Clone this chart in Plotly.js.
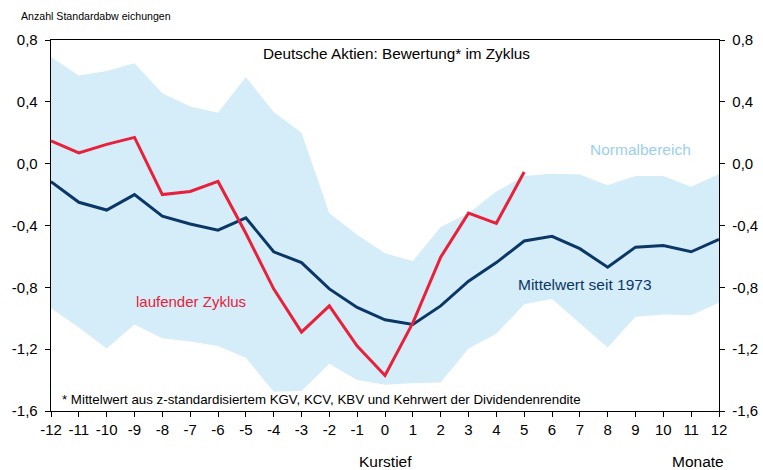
<!DOCTYPE html>
<html>
<head>
<meta charset="utf-8">
<script src="https://cdn.plot.ly/plotly-3.0.1.min.js"></script>
<style>html,body{margin:0;padding:0;background:#fff;}#chart{width:763px;height:470px;}</style>
</head>
<body>
<div id="chart"></div>
<script>
const months = [-12,-11,-10,-9,-8,-7,-6,-5,-4,-3,-2,-1,0,1,2,3,4,5,6,7,8,9,10,11,12];
const bandUpper = [0.69,0.57,0.60,0.65,0.455,0.37,0.33,0.56,0.335,0.20,-0.32,-0.46,-0.58,-0.63,-0.41,-0.32,-0.18,-0.08,-0.065,-0.07,-0.14,-0.08,-0.08,-0.15,-0.067];
const bandLower = [-0.935,-1.06,-1.195,-1.04,-1.13,-1.15,-1.18,-1.255,-1.475,-1.47,-1.295,-1.40,-1.43,-1.42,-1.415,-1.195,-1.10,-0.91,-0.875,-1.03,-1.19,-0.99,-0.975,-0.98,-0.90];
const meanSince1973 = [-0.116,-0.25,-0.30,-0.20,-0.34,-0.39,-0.43,-0.35,-0.57,-0.64,-0.81,-0.93,-1.01,-1.04,-0.92,-0.76,-0.64,-0.50,-0.47,-0.55,-0.67,-0.54,-0.53,-0.57,-0.49];
const currentMonths = [-12,-11,-10,-9,-8,-7,-6,-5,-4,-3,-2,-1,0,1,2,3,4,5];
const currentCycle = [0.147,0.07,0.125,0.17,-0.20,-0.18,-0.115,-0.45,-0.81,-1.09,-0.92,-1.18,-1.37,-1.03,-0.605,-0.32,-0.386,-0.054];
const xTickLabels = ["-12","-11","-10","-9","-8","-7","-6","-5","-4","-3","-2","-1","0","1","2","3","4","5","6","7","8","9","10","11","12"];
const yTickVals = [0.8,0.4,0.0,-0.4,-0.8,-1.2,-1.6];
const yTickLabels = ["0,8","0,4","0,0","-0,4","-0,8","-1,2","-1,6"];

const FONT = "Liberation Sans, Arial, sans-serif";
const navy = "#0b3766";
const red = "#e8203a";
const bandColor = "#d5edf8";

const traces = [
  {x: months, y: bandLower, type: "scatter", mode: "lines", line: {width: 0, color: bandColor}, hoverinfo: "skip", showlegend: false},
  {x: months, y: bandUpper, type: "scatter", mode: "lines", fill: "tonexty", fillcolor: bandColor, line: {width: 0, color: bandColor}, hoverinfo: "skip", showlegend: false},
  {x: months, y: meanSince1973, type: "scatter", mode: "lines", line: {width: 3, color: navy}, showlegend: false},
  {x: currentMonths, y: currentCycle, type: "scatter", mode: "lines", line: {width: 3, color: red}, showlegend: false},
  {x: [months[0]], y: [yTickVals[0]], yaxis: "y2", type: "scatter", mode: "markers", marker: {opacity: 0}, hoverinfo: "skip", showlegend: false}
];

const yAxisCommon = {
  range: [-1.6, 0.8], showgrid: false, zeroline: false,
  showline: true, linecolor: "#000", linewidth: 1.3,
  ticks: "outside", ticklen: 5, tickcolor: "#000",
  tickvals: yTickVals, ticktext: yTickLabels, ticklabelstandoff: 4,
  tickfont: {family: FONT, size: 15, color: "#000"}
};

const layout = {
  width: 763, height: 470,
  margin: {l: 51, r: 44, t: 40, b: 59},
  paper_bgcolor: "#fff", plot_bgcolor: "#fff",
  font: {family: FONT, size: 15, color: "#000"},
  showlegend: false,
  xaxis: {
    range: [-12, 12], showgrid: false, zeroline: false,
    showline: true, linecolor: "#000", linewidth: 1.3, mirror: true,
    ticks: "outside", ticklen: 5, tickcolor: "#000", tickwidth: 1,
    tickvals: months, ticktext: xTickLabels,
    tickfont: {family: FONT, size: 15, color: "#000"}
  },
  yaxis: Object.assign({}, yAxisCommon),
  yaxis2: Object.assign({}, yAxisCommon, {overlaying: "y", side: "right"}),
  annotations: [
    {text: "Anzahl Standardabw eichungen", xref: "paper", yref: "paper", x: -0.048, y: 1.065, xanchor: "left", yanchor: "middle", showarrow: false, font: {family: FONT, size: 10.6, color: "#000"}},
    {text: "Deutsche Aktien: Bewertung* im Zyklus", xref: "paper", yref: "paper", x: 0.517, y: 0.963, xanchor: "center", yanchor: "middle", showarrow: false, font: {family: FONT, size: 15.3, color: "#000"}},
    {text: "Normalbereich", xref: "paper", yref: "paper", x: 0.883, y: 0.706, xanchor: "center", yanchor: "middle", showarrow: false, font: {family: FONT, size: 15.5, color: "#9ccfec"}},
    {text: "laufender Zyklus", xref: "paper", yref: "paper", x: 0.21, y: 0.294, xanchor: "center", yanchor: "middle", showarrow: false, font: {family: FONT, size: 15, color: red}},
    {text: "Mittelwert seit 1973", xref: "paper", yref: "paper", x: 0.80, y: 0.34, xanchor: "center", yanchor: "middle", showarrow: false, font: {family: FONT, size: 15.5, color: navy}},
    {text: "* Mittelwert aus z-standardisiertem KGV, KCV, KBV und Kehrwert der Dividendenrendite", xref: "paper", yref: "paper", x: 0.013, y: 0.03, xanchor: "left", yanchor: "middle", showarrow: false, font: {family: FONT, size: 13.3, color: "#000"}},
    {text: "Kurstief", xref: "x", yref: "paper", x: 0, y: -0.135, xanchor: "center", yanchor: "middle", showarrow: false, font: {family: FONT, size: 15.5, color: "#000"}},
    {text: "Monate", xref: "paper", yref: "paper", x: 0.968, y: -0.135, xanchor: "center", yanchor: "middle", showarrow: false, font: {family: FONT, size: 15.5, color: "#000"}}
  ]
};

Plotly.newPlot("chart", traces, layout, {staticPlot: true, displayModeBar: false});
</script>
</body>
</html>
